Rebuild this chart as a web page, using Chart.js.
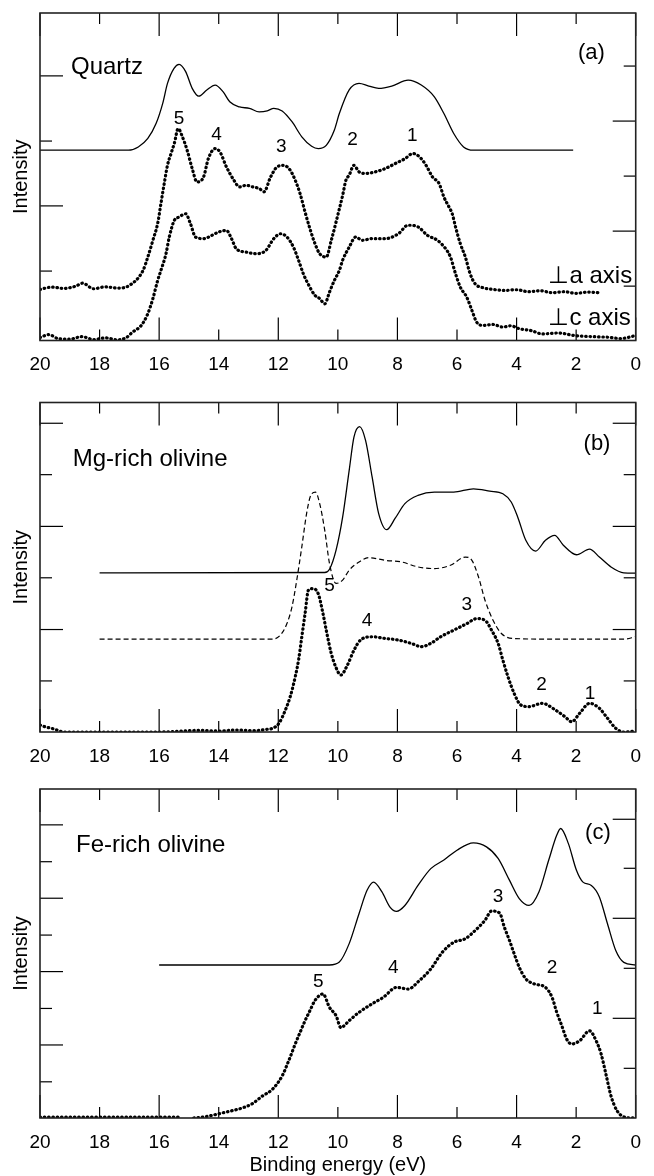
<!DOCTYPE html>
<html>
<head>
<meta charset="utf-8">
<title>Valence band spectra</title>
<script src="https://cdn.jsdelivr.net/npm/chart.js@4.4.0/dist/chart.umd.min.js"></script>
<style>
  body { margin: 0; background: #fff; }
  canvas { position: absolute; left: 0; }
</style>
</head>
<body>
<canvas id="chartA" width="654" height="392" style="top:0px"></canvas>
<canvas id="chartB" width="654" height="384" style="top:392px"></canvas>
<canvas id="chartC" width="654" height="400" style="top:776px"></canvas>
<script>
// Binding energy tick labels (eV), shared by all panels
const energyTicks = [20, 18, 16, 14, 12, 10, 8, 6, 4, 2, 0];

// ---- (a) Quartz ----
const quartzE = [20, 17.03, 16.7, 16.38, 16.1, 15.88, 15.72, 15.5, 15.33, 15.11, 14.89, 14.67, 14.4, 14.12, 13.85, 13.63, 13.3, 12.97, 12.64, 12.37, 12.15, 11.87, 11.54, 11.21, 10.88, 10.66, 10.39, 10.12, 9.95, 9.62, 9.29, 8.96, 8.63, 8.19, 7.64, 7.2, 6.76, 6.44, 6.11, 5.78, 5.45, 2.1];
const quartzI = [58.1, 58.1, 59.1, 61.7, 66.3, 72.4, 78.5, 83.1, 84.3, 82.1, 77.0, 74.6, 76.5, 78.0, 75.9, 72.9, 71.3, 70.9, 69.8, 70.1, 70.9, 70.1, 66.8, 62.2, 59.3, 58.6, 59.6, 64.2, 69.3, 76.5, 78.5, 77.7, 77.0, 77.7, 79.5, 78.0, 74.4, 69.3, 63.2, 59.1, 58.1, 58.1];
// perpendicular to a axis
const quartzAE = [20, 19.6, 19.2, 18.8, 18.57, 18.2, 17.8, 17.4, 17.0, 16.54, 16.38, 16.21, 16.05, 15.94, 15.83, 15.72, 15.6, 15.49, 15.36, 15.22, 15.06, 14.89, 14.73, 14.51, 14.35, 14.12, 13.96, 13.74, 13.52, 13.3, 13.08, 12.86, 12.64, 12.48, 12.26, 12.04, 11.82, 11.6, 11.43, 11.27, 11.1, 10.94, 10.77, 10.61, 10.39, 10.22, 10.06, 9.84, 9.73, 9.62, 9.46, 9.29, 9.07, 8.74, 8.41, 8.08, 7.75, 7.48, 7.26, 7.04, 6.82, 6.6, 6.44, 6.27, 6.16, 6.05, 5.89, 5.72, 5.56, 5.39, 5.12, 4.8, 4.4, 4.0, 3.6, 3.2, 2.8, 2.4, 2.0, 1.6, 1.27];
const quartzAI = [15.6, 16.3, 15.9, 16.6, 17.5, 15.8, 16.4, 16.0, 16.8, 21.4, 25.5, 30.6, 35.7, 41.8, 47.9, 53.5, 57.1, 60.2, 64.7, 62.2, 58.1, 52.5, 48.4, 49.9, 55.5, 58.6, 57.6, 53.0, 49.4, 46.9, 47.4, 46.9, 46.4, 45.4, 49.9, 53.0, 53.5, 52.0, 48.9, 44.9, 39.2, 34.2, 29.6, 26.5, 25.5, 30.6, 36.2, 44.3, 48.9, 50.5, 53.5, 51.5, 51.0, 51.5, 52.5, 54.0, 55.5, 57.1, 56.1, 53.5, 49.9, 47.9, 43.8, 40.8, 38.7, 34.7, 29.6, 25.5, 20.4, 17.3, 16.1, 15.6, 15.3, 15.5, 14.9, 15.2, 14.6, 14.9, 14.4, 14.8, 14.6];
// perpendicular to c axis
const quartzCE = [20, 19.7, 19.4, 19.0, 18.6, 18.2, 17.8, 17.4, 17.1, 16.9, 16.6, 16.38, 16.21, 16.05, 15.94, 15.77, 15.66, 15.49, 15.33, 15.11, 14.95, 14.78, 14.51, 14.23, 14.01, 13.74, 13.57, 13.41, 13.08, 12.75, 12.42, 12.15, 11.93, 11.71, 11.49, 11.32, 11.16, 11.0, 10.77, 10.61, 10.44, 10.28, 10.12, 9.95, 9.84, 9.62, 9.4, 9.18, 8.85, 8.41, 7.97, 7.64, 7.31, 6.99, 6.66, 6.38, 6.22, 6.05, 5.89, 5.67, 5.5, 5.34, 5.12, 4.8, 4.46, 4.2, 3.91, 3.5, 3.14, 2.6, 2.04, 1.5, 0.95, 0.5, 0];
const quartzCI = [0.9, 1.8, 0.6, 0.4, 1.2, 0.3, 0.8, 0.2, 0.9, 2.5, 4.6, 8.2, 12.8, 18.3, 21.4, 26.5, 31.6, 36.7, 37.7, 38.7, 35.7, 31.6, 31.1, 32.1, 33.1, 33.6, 31.1, 28.0, 27.0, 26.5, 27.5, 31.1, 32.6, 31.6, 28.5, 24.5, 20.4, 17.3, 13.8, 12.8, 11.2, 14.8, 18.3, 21.4, 24.5, 28.5, 31.6, 30.6, 31.1, 31.1, 32.6, 35.2, 34.7, 32.1, 30.6, 28.0, 25.5, 20.4, 16.3, 13.2, 9.2, 5.6, 4.6, 4.9, 4.1, 4.5, 3.6, 3.0, 2.0, 2.3, 1.5, 1.2, 1.0, 0.6, 1.5];
const quartzPeaks = ['5', '4', '3', '2', '1'];
const quartzPeakE = [15.33, 14.07, 11.9, 9.51, 7.5];
const quartzPeakI = [67.8, 62.7, 59.3, 61.2, 62.4];

// ---- (b) Mg-rich olivine ----
const mgSolidE = [18, 10.44, 10.28, 10.06, 9.84, 9.62, 9.46, 9.27, 9.07, 8.85, 8.63, 8.36, 8.08, 7.75, 7.31, 6.76, 6.11, 5.45, 4.9, 4.46, 4.18, 3.96, 3.69, 3.36, 3.03, 2.72, 2.43, 1.99, 1.55, 1.22, 0.83, 0.4, 0];
const mgSolidI = [48.3, 48.4, 49.4, 55.2, 65.2, 79.4, 89.5, 92.7, 88.5, 77.4, 66.3, 61.4, 64.8, 69.3, 71.8, 72.8, 72.8, 73.8, 73.1, 72.3, 69.8, 65.2, 58.2, 54.9, 58.2, 59.7, 56.7, 53.8, 55.5, 53.1, 50.1, 48.3, 48.2];
const mgDashE = [18, 12.2, 11.93, 11.71, 11.54, 11.38, 11.21, 11.05, 10.91, 10.75, 10.61, 10.44, 10.28, 10.06, 9.84, 9.62, 9.29, 8.96, 8.41, 7.86, 7.31, 6.76, 6.22, 5.72, 5.5, 5.28, 5.06, 4.79, 4.51, 4.13, 3.0, 0.4, 0];
const mgDashI = [28.2, 28.2, 29.4, 32.9, 38.0, 46.1, 56.2, 66.3, 71.8, 72.8, 69.3, 61.2, 51.1, 45.1, 46.1, 49.1, 51.6, 52.9, 52.1, 51.6, 50.1, 49.6, 50.6, 53.1, 52.1, 47.1, 40.0, 33.9, 29.9, 28.4, 28.2, 28.2, 28.9];
const mgDotE = [20, 19.8, 19.6, 19.4, 19.2, 16.0, 14.6, 14.0, 13.4, 12.8, 12.4, 12.2, 11.98, 11.76, 11.6, 11.43, 11.32, 11.21, 11.1, 10.99, 10.86, 10.66, 10.5, 10.39, 10.22, 10.06, 9.9, 9.68, 9.46, 9.24, 8.85, 8.41, 7.97, 7.54, 7.2, 6.88, 6.55, 6.11, 5.67, 5.34, 5.06, 4.84, 4.62, 4.46, 4.29, 4.08, 3.86, 3.58, 3.14, 2.7, 2.37, 2.15, 1.88, 1.55, 1.22, 0.95, 0.67, 0.4, 0];
const mgDotI = [2.1, 1.5, 1.1, 0.5, 0.0, 0.0, 0.5, 0.3, 0.6, 0.4, 0.8, 1.1, 2.6, 6.7, 10.7, 16.8, 21.8, 28.9, 36.0, 43.0, 43.5, 42.0, 36.0, 30.9, 23.8, 19.5, 17.3, 20.3, 24.8, 27.9, 28.9, 28.4, 27.9, 26.9, 25.9, 26.9, 28.9, 30.9, 32.9, 34.4, 33.9, 30.9, 26.9, 21.8, 16.8, 11.7, 8.2, 7.7, 8.7, 6.7, 4.6, 3.1, 5.7, 8.7, 7.2, 4.2, 1.1, 0.0, 0.3];
const mgPeaks = ['5', '4', '3', '2', '1'];
const mgPeakE = [10.28, 9.02, 5.67, 3.16, 1.53];
const mgPeakI = [44.5, 33.9, 38.5, 14.2, 11.7];

// ---- (c) Fe-rich olivine ----
const feSolidE = [16, 10.28, 9.95, 9.62, 9.29, 9.02, 8.8, 8.52, 8.25, 8.03, 7.75, 7.31, 6.88, 6.44, 6.0, 5.45, 5.01, 4.62, 4.24, 3.91, 3.58, 3.25, 2.92, 2.65, 2.52, 2.26, 1.99, 1.77, 1.49, 1.22, 0.95, 0.67, 0.4, 0];
const feSolidI = [46.5, 46.5, 47.4, 53.0, 62.1, 69.2, 71.7, 68.7, 64.1, 62.8, 64.6, 70.7, 75.8, 78.4, 81.4, 83.6, 82.4, 78.9, 72.3, 66.7, 64.6, 68.7, 78.4, 86.0, 88.0, 83.4, 75.3, 71.7, 70.7, 67.2, 59.1, 50.9, 47.3, 46.5];
const feDotE = [20, 15.3, 15.1, 14.84, 14.51, 14.18, 13.85, 13.52, 13.19, 12.86, 12.53, 12.2, 11.87, 11.65, 11.43, 11.27, 11.1, 10.94, 10.77, 10.5, 10.28, 10.06, 9.9, 9.62, 9.29, 8.85, 8.47, 8.03, 7.64, 7.26, 6.88, 6.49, 6.11, 5.72, 5.39, 5.06, 4.84, 4.57, 4.41, 4.24, 4.08, 3.91, 3.69, 3.42, 3.03, 2.81, 2.65, 2.48, 2.32, 2.15, 1.88, 1.55, 1.33, 1.16, 1.0, 0.83, 0.62, 0.29, 0];
const feDotI = [0.3, 0.3, null, 0.0, 0.3, 0.9, 1.6, 2.3, 3.1, 4.4, 6.7, 8.7, 12.8, 17.4, 22.5, 26.0, 29.6, 32.6, 35.7, 37.7, 33.6, 31.1, 27.5, 29.6, 32.1, 34.7, 36.7, 39.7, 39.2, 41.8, 45.3, 50.4, 53.4, 54.5, 57.0, 60.1, 62.9, 62.3, 58.0, 54.0, 49.9, 45.8, 42.3, 40.8, 39.7, 36.7, 32.1, 28.0, 24.0, 22.5, 23.5, 26.5, 23.5, 19.4, 13.3, 6.7, 2.1, 0.1, 0];
const fePeaks = ['5', '4', '3', '2', '1'];
const fePeakE = [10.66, 8.14, 4.62, 2.81, 1.29];
const fePeakI = [41.3, 45.8, 67.2, 45.8, 33.1];

const FONT = "'Liberation Sans', Arial, Helvetica, sans-serif";
Chart.defaults.font.family = FONT;
Chart.defaults.color = '#000';

function pts(E, I) {
    return E.map((e, i) => ({ x: e, y: I[i] }));
}

function solid(E, I) {
    return { data: pts(E, I), borderColor: '#000', borderWidth: 1.3, pointRadius: 0, cubicInterpolationMode: 'monotone' };
}
function dashed(E, I) {
    return { data: pts(E, I), borderColor: '#000', borderWidth: 1.2, borderDash: [5, 3], pointRadius: 0, cubicInterpolationMode: 'monotone' };
}
function dotted(E, I) {
    return { data: pts(E, I), borderColor: '#000', borderWidth: 3.2, borderDash: [0.5, 3.8], borderCapStyle: 'round', pointRadius: 0, cubicInterpolationMode: 'monotone' };
}

// Draws the frame, inward tick marks and the text annotations
const framePlugin = {
    id: 'frame',
    afterDatasetsDraw(chart, args, opts) {
        const { ctx, chartArea: a } = chart;
        const x = chart.scales.x, y = chart.scales.y;
        const seg = (x1, y1, x2, y2) => { ctx.beginPath(); ctx.moveTo(x1, y1); ctx.lineTo(x2, y2); ctx.stroke(); };
        ctx.save();
        ctx.strokeStyle = '#000';
        ctx.lineWidth = 1.2;
        energyTicks.forEach(e => {
            const px = x.getPixelForValue(e);
            const len = e % 4 === 0 ? 23 : 11;
            seg(px, a.bottom, px, a.bottom - len);
            seg(px, a.top, px, a.top + len);
        });
        opts.leftTicks.forEach((v, i) => {
            const py = y.getPixelForValue(v);
            seg(a.left, py, a.left + (opts.leftLong[i] ? 23 : 12), py);
        });
        opts.rightTicks.forEach((v, i) => {
            const py = y.getPixelForValue(v);
            seg(a.right, py, a.right - (opts.rightLong[i] ? 23 : 12), py);
        });
        ctx.lineWidth = 1.6;
        ctx.strokeStyle = '#222';
        ctx.strokeRect(a.left, a.top, a.right - a.left, a.bottom - a.top);

        ctx.fillStyle = '#000';
        ctx.textBaseline = 'middle';
        (opts.texts || []).forEach(t => {
            ctx.font = t.size + 'px ' + FONT;
            ctx.textAlign = t.align || 'center';
            ctx.fillText(t.text, x.getPixelForValue(t.e), y.getPixelForValue(t.v));
        });
        ctx.restore();
    }
};

function peakTexts(labels, E, I) {
    return labels.map((s, i) => ({ text: s, e: E[i], v: I[i], size: 19 }));
}

function makePanel(id, datasets, cfg) {
    const canvas = document.getElementById(id);
    return new Chart(canvas, {
        type: 'line',
        data: { datasets: datasets },
        plugins: [framePlugin],
        options: {
            responsive: false,
            animation: false,
            devicePixelRatio: 1,
            layout: { padding: { top: cfg.top, right: 7, left: 0, bottom: 0 } },
            plugins: {
                legend: { display: false },
                tooltip: { enabled: false },
                frame: cfg.frame
            },
            scales: {
                x: {
                    type: 'linear',
                    reverse: true,
                    min: 0,
                    max: 20,
                    afterBuildTicks: s => { s.ticks = energyTicks.map(v => ({ value: v })); },
                    afterFit: s => { s.height = canvas.height - cfg.bottom; },
                    grid: { display: false, drawTicks: false },
                    border: { display: false },
                    ticks: { autoSkip: false, maxRotation: 0, padding: 13, color: '#000', font: { size: 19 } },
                    title: cfg.xTitle ? {
                        display: true,
                        text: cfg.xTitle,
                        color: '#000',
                        font: { size: 20, lineHeight: 1 },
                        padding: { top: 0, bottom: 1 }
                    } : { display: false }
                },
                y: {
                    min: 0,
                    max: 100,
                    afterFit: s => { s.width = 40; },
                    grid: { display: false },
                    border: { display: false },
                    ticks: { display: false },
                    title: { display: true, text: 'Intensity', color: '#000', font: { size: 20, lineHeight: 1.2 }, padding: { top: 9, bottom: 0 } }
                }
            }
        }
    });
}

makePanel('chartA', [
    dotted(quartzAE, quartzAI),
    dotted(quartzCE, quartzCI),
    solid(quartzE, quartzI)
], {
    top: 13, bottom: 340.5,
    frame: {
        leftTicks: [21.2, 41.1, 60.9, 80.8], leftLong: [false, true, false, true],
        rightTicks: [16.6, 33.4, 50.2, 67.0, 83.8], rightLong: [false, true, false, true, false],
        texts: [
            { text: 'Quartz', e: 18.96, v: 83.4, size: 24, align: 'left' },
            { text: '(a)', e: 1.49, v: 87.7, size: 22 },
            { text: '\u22A5a axis', e: 2.93, v: 19.7, size: 24, align: 'left' },
            { text: '\u22A5c axis', e: 2.93, v: 6.8, size: 24, align: 'left' }
        ].concat(peakTexts(quartzPeaks, quartzPeakE, quartzPeakI))
    }
});

makePanel('chartB', [
    dotted(mgDotE, mgDotI),
    dashed(mgDashE, mgDashI),
    solid(mgSolidE, mgSolidI)
], {
    top: 10.5, bottom: 340,
    frame: {
        leftTicks: [15.5, 31.1, 46.8, 62.4, 78.1, 93.7], leftLong: [false, true, false, true, false, true],
        rightTicks: [15.5, 31.1, 46.8, 62.4, 78.1, 93.7], rightLong: [false, true, false, true, false, true],
        texts: [
            { text: 'Mg-rich olivine', e: 18.9, v: 82.8, size: 24, align: 'left' },
            { text: '(b)', e: 1.3, v: 87.3, size: 22 }
        ].concat(peakTexts(mgPeaks, mgPeakE, mgPeakI))
    }
});

makePanel('chartC', [
    dotted(feDotE, feDotI),
    solid(feSolidE, feSolidI)
], {
    top: 13, bottom: 342, xTitle: 'Binding energy (eV)',
    frame: {
        leftTicks: [11.0, 22.2, 33.3, 44.5, 55.6, 66.8, 77.9, 89.1], leftLong: [false, true, false, true, false, true, false, true],
        rightTicks: [15.1, 30.3, 45.5, 60.7, 75.9, 90.8], rightLong: [false, true, false, true, false, true],
        texts: [
            { text: 'Fe-rich olivine', e: 18.79, v: 83.0, size: 24, align: 'left' },
            { text: '(c)', e: 1.27, v: 86.6, size: 22 }
        ].concat(peakTexts(fePeaks, fePeakE, fePeakI))
    }
});
</script>
</body>
</html>
